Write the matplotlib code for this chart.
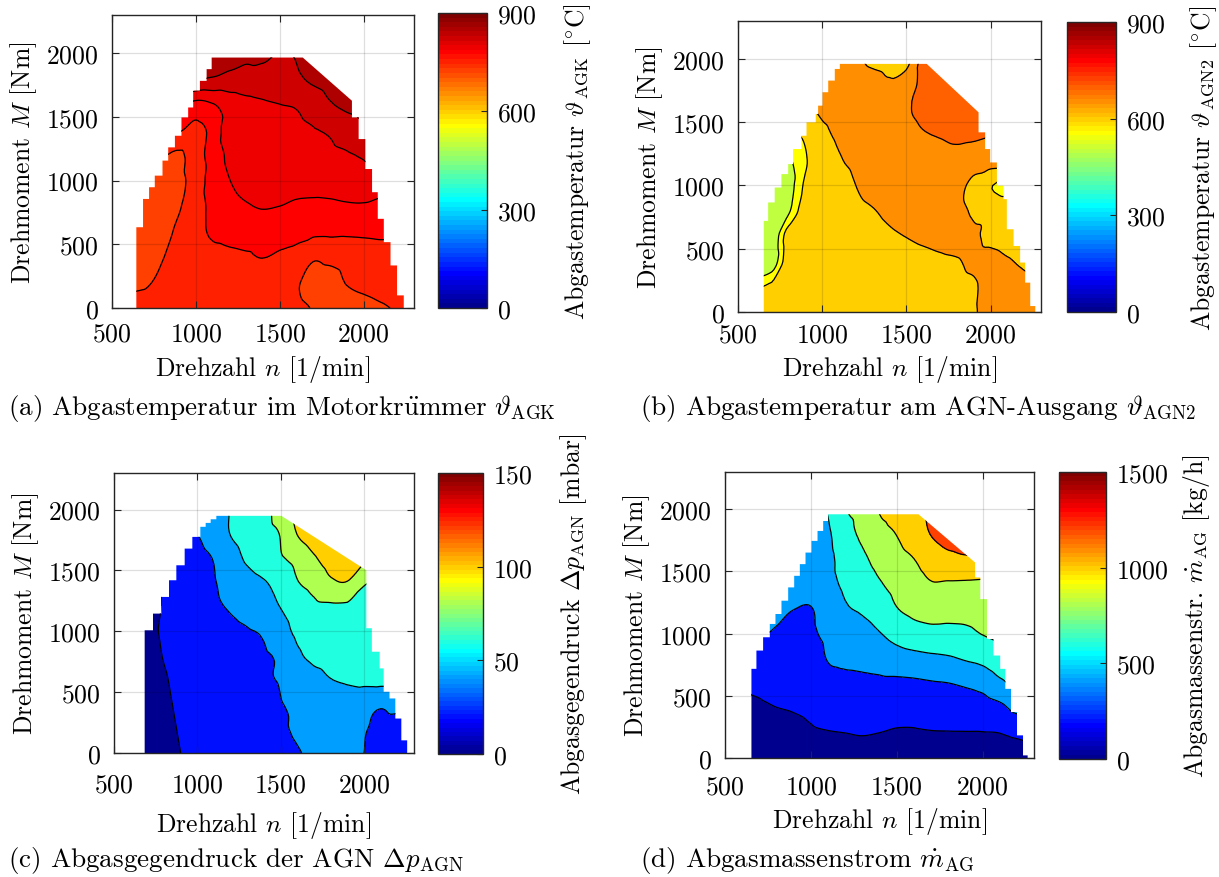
import numpy as np
import matplotlib
matplotlib.use("Agg")
import matplotlib.pyplot as plt
from matplotlib.colors import ListedColormap, Normalize
from matplotlib.tri import Triangulation, UniformTriRefiner, CubicTriInterpolator
from matplotlib.path import Path
from matplotlib.patches import PathPatch
from matplotlib.cm import ScalarMappable

plt.rcParams['font.family'] = ['cmr10', 'DejaVu Serif']
plt.rcParams['mathtext.fontset'] = 'cm'
plt.rcParams['axes.formatter.use_mathtext'] = True
plt.rcParams['font.size'] = 18.5

# ---------------------------------------------------------------- grid axes
speed = [600, 700, 800, 900, 1000, 1100, 1200, 1300, 1400,
         1500, 1600, 1700, 1800, 1900, 2000, 2100, 2200, 2300]      # 1/min
torque = [0, 200, 400, 600, 800, 1000, 1200, 1400, 1600, 1800, 2000]  # Nm

# ---------------------------------------------------------------- (a) exhaust temp. manifold [degC]
temp_agk = [
    [757, 755, 757, 762, 768, 770, 768, 765, 762, 758, 754, 749, 742, 740, 742, 747, 752, 755],
    [745, 748, 754, 760, 766, 770, 768, 764, 760, 756, 752, 743, 742, 751, 756, 760, 762, 763],
    [730, 738, 749, 757, 765, 770, 772, 773, 775.5, 772, 768, 753, 756, 760, 764, 767, 768, 768],
    [728, 732, 742, 755, 768, 778, 781, 783, 783, 782, 781, 780, 780, 779, 779, 779, 778, 778],
    [730, 733, 738, 748, 765, 781, 792, 798, 802, 800, 795, 794, 795, 797, 797, 790, 788, 788],
    [740, 738, 738, 745, 760, 787, 799.5, 808, 812, 813, 813, 812, 812, 815, 819, 823, 824, 825],
    [760, 757, 752, 746, 765, 785, 805, 812, 816, 818, 819, 820, 821, 823, 827, 830, 832, 833],
    [785, 784, 782, 778, 768, 783, 815, 818, 820, 821, 822, 824, 828, 836, 845, 848, 849, 849],
    [810, 808, 806, 806, 793, 799, 812, 820, 823, 825, 827, 834, 848, 856, 860, 862, 862, 862],
    [857, 857, 856, 855, 852, 848, 843, 840, 838, 840, 846, 855, 862, 866, 868, 869, 869, 869],
    [868, 868, 868, 867, 866, 864, 861, 857, 858, 849, 852, 862, 868, 872, 874, 875, 875, 875],
]
# ---------------------------------------------------------------- (b) exhaust temp. AGN outlet [degC]
temp_agn2 = [
    [612, 615, 620, 624, 627, 630, 632, 634, 636, 638, 640, 642, 645, 648.5, 656, 660, 662, 663],
    [590, 612, 620, 622, 626, 629, 631, 633, 635, 637, 640, 642, 645, 648, 657, 661, 657, 652],
    [470, 505, 635, 625, 625, 629, 632, 635, 638, 641, 644, 647, 649, 653, 656, 652, 646, 640],
    [460, 495, 632, 622, 628, 634, 639, 643, 647, 650.5, 654, 656, 656, 653, 645, 640, 636, 632],
    [455, 480, 540, 635, 636, 639, 645, 649, 654, 658, 661, 662, 658, 646, 640, 636, 632, 630],
    [455, 470, 520, 610, 627, 638, 650, 657, 661, 664, 666, 667, 662, 638, 603, 585, 595, 600],
    [490, 505, 540, 595, 628, 647, 657, 664, 668, 671, 673, 675, 677, 672, 674, 676, 680, 683],
    [560, 570, 585, 610, 640, 656, 665, 672, 680, 688, 697, 703, 712, 708, 702, 700, 700, 700],
    [630, 632, 636, 641, 657, 662, 670, 678, 686, 696, 708, 715, 718, 718, 716, 715, 714, 714],
    [648, 650, 652, 655, 660, 665, 668, 666, 657, 675, 712, 722, 726, 728, 728, 728, 728, 728],
    [660, 661, 662, 663, 665, 666, 657, 640, 632, 630, 715, 730, 735, 737, 738, 738, 738, 738],
]
# ---------------------------------------------------------------- (c) back pressure AGN [mbar]
dp_agn = [
    [8, 12, 16, 20, 24, 28, 31, 34, 36, 38, 39.5, 41.5, 43, 42, 40, 34, 30, 28],
    [10, 13, 17, 21, 25, 29, 32, 35, 37, 39, 41, 43, 44, 43, 41, 36, 32, 30],
    [11, 14, 18, 22, 26, 30, 33, 36, 38, 39.6, 42, 45, 48, 50, 46, 42, 46, 50],
    [12, 15, 19, 23, 27, 31, 34, 37, 39, 41, 47, 54, 59.5, 62, 64, 65, 65, 65],
    [13, 16, 20.5, 24, 28, 32, 35, 37, 38.5, 43, 57, 64, 66, 67, 68, 68, 68, 68],
    [14, 17, 21.5, 25, 29, 33, 36.5, 39, 42, 52, 64, 68, 70, 71, 72, 72, 72, 72],
    [14, 16, 21, 27, 33, 37.5, 41.5, 46, 52, 60.5, 70, 76, 77, 77, 77, 77, 77, 77],
    [15, 17, 21, 27, 33, 39, 46, 52, 58.5, 67, 79, 86, 97, 99, 82, 78, 77, 77],
    [16, 18, 22, 28, 34, 41, 52, 63, 72, 78, 86, 98, 108, 112, 105, 105, 105, 105],
    [30, 32, 34, 36, 40, 50, 60.5, 68, 75, 81, 100.5, 111, 116, 118, 118, 118, 118, 118],
    [35, 37, 40, 44, 48, 54, 61, 68, 75, 88, 108, 118, 123, 125, 125, 125, 125, 125],
]
# ---------------------------------------------------------------- (d) exhaust mass flow [kg/h]
mdot_ag = [
    [100, 110, 120, 128, 135, 140, 145, 148, 150, 152, 154, 155, 156, 157, 158, 158, 158, 158],
    [133, 145, 159, 167, 183, 193, 199.5, 207, 198.8, 187, 186.5, 192.5, 194, 194.5, 195, 200, 225, 240],
    [167, 179, 198, 207.5, 227, 266, 278, 285, 282, 262, 262, 282, 290, 299, 308.5, 351, 449, 480],
    [195, 236, 259.5, 256, 269, 342.5, 357, 363, 365.6, 361.6, 368, 384.6, 397, 424, 463, 560, 640, 660],
    [240, 327, 322, 305, 310, 409, 433, 446, 471, 515, 540, 562, 580, 615.6, 652, 727, 760, 780],
    [420, 410, 384, 354, 375, 444, 507, 534, 591, 668.5, 722, 745, 743.5, 757, 806, 841, 860, 870],
    [460, 450, 430, 402, 394, 479, 581, 623, 688, 793, 849, 876, 871, 872, 887, 900, 905, 910],
    [480, 475, 470, 450, 470, 540, 635, 691, 783, 863, 917, 986, 980, 975, 968, 960, 955, 950],
    [500, 495, 490, 485, 490, 550, 686, 764, 867, 934, 998, 1096, 1153, 1177, 1170, 1165, 1160, 1160],
    [520, 520, 520, 520, 530, 575, 737, 833, 948, 1004, 1102, 1205, 1267, 1280, 1290, 1290, 1290, 1290],
    [540, 540, 540, 545, 560, 610, 790, 860, 1010, 1060, 1150, 1240, 1300, 1320, 1330, 1330, 1330, 1330],
]

# ---------------------------------------------------------------- full-load outlines (speed, torque)
fl_a_n = [645, 685, 721, 755, 801, 835, 875, 914, 954, 984, 1024, 1064, 1094, 1637, 1930,
          1970, 2010, 2050, 2084, 2120, 2160, 2199, 2239, 2243]
fl_a_M = [634, 856, 948, 1039, 1157, 1261, 1352, 1496, 1574, 1705, 1783, 1875, 1966, 1966, 1627,
          1496, 1326, 1091, 909, 700, 517, 334, 99, 0]
fl_b_n = [653, 679, 718, 758, 798, 827, 877, 907, 962, 976, 1002, 1036, 1075, 1105, 1621, 1929,
          1968, 1998, 2038, 2077, 2097, 2137, 2176, 2206, 2236, 2266, 2275]
fl_b_M = [720, 866, 984, 1090, 1169, 1288, 1393, 1499, 1565, 1631, 1737, 1829, 1921, 1961, 1961, 1578,
          1420, 1288, 1182, 998, 892, 654, 522, 391, 232, 47, 0]
fl_c_n = [684, 734, 784, 830, 874, 924, 970, 1018, 1050, 1080, 1114, 1504, 2014,
          2047, 2094, 2118, 2153, 2188, 2224, 2259, 2262]
fl_c_M = [1008, 1145, 1282, 1419, 1542, 1679, 1775, 1858, 1890, 1920, 1948, 1948, 1501,
          1025, 832, 695, 503, 448, 283, 104, 0]
fl_d_n = [654, 683, 722, 761, 794, 829, 868, 903, 936, 969, 1004, 1039, 1072, 1101, 1627, 1957,
          1987, 2026, 2064, 2103, 2133, 2166, 2201, 2236, 2263, 2266]
fl_d_M = [717, 864, 971, 1078, 1158, 1265, 1372, 1465, 1559, 1652, 1746, 1826, 1906, 1960, 1960, 1572,
          1452, 1278, 957, 824, 717, 556, 369, 182, 21, 0]

# ---------------------------------------------------------------- contour levels / colour scales
lines_a = [750, 775, 800, 825, 850]
bands_a = [725, 750, 775, 800, 825, 850]
lines_b = [550, 600, 650, 700]
bands_b = [500, 550, 600, 650, 700]
lines_c = [20, 40, 60, 80, 100]
bands_c = [0, 20, 40, 60, 80, 100]
lines_d = [200, 400, 600, 800, 1000, 1200]
bands_d = [0, 200, 400, 600, 800, 1000, 1200]

ticks_a = [0, 300, 600, 900]
ticks_b = [0, 300, 600, 900]
ticks_c = [0, 50, 100, 150]
ticks_d = [0, 500, 1000, 1500]


def matlab_jet(m=64):
    n = m // 4
    u = np.concatenate([np.arange(1, n + 1) / n, np.ones(n - 1), np.arange(n, 0, -1) / n])
    g = int(np.ceil(n / 2)) - (1 if m % 4 == 1 else 0) + np.arange(1, len(u) + 1)
    cols = np.zeros((m, 3))
    for k, idx in enumerate((g + n, g, g - n)):
        ok = (idx >= 1) & (idx <= m)
        cols[idx[ok] - 1, k] = u[ok]
    return ListedColormap(cols)


JET = matlab_jet(64)
W, H = 1219, 878


def outline_path(n_pts, m_pts):
    verts = [(n_pts[0], 0.0), (n_pts[0], m_pts[0])]
    for i in range(1, len(n_pts)):
        n0, m0, n1, m1 = n_pts[i - 1], m_pts[i - 1], n_pts[i], m_pts[i]
        if abs(n1 - n0) > 100 or m1 == m0:
            verts.append((n1, m1))
        elif m1 > m0:
            verts += [(n1, m0), (n1, m1)]
        else:
            verts += [(n0, m1), (n1, m1)]
    verts.append((n_pts[-1], 0.0))
    verts.append(verts[0])
    codes = [Path.MOVETO] + [Path.LINETO] * (len(verts) - 2) + [Path.CLOSEPOLY]
    return Path(verts, codes)


def rect(x0, y0, x1, y1):
    return [x0 / W, 1 - y1 / H, (x1 - x0) / W, (y1 - y0) / H]


def panel(fig, ax_px, cb_px, field, fl_n, fl_M, lines, bands, vmax, cticks, cb_label,
          caption, cap_xy, xpad, xlab_off, cblab_off):
    ax = fig.add_axes(rect(*ax_px))
    cax = fig.add_axes(rect(*cb_px))
    ax_w, ax_h = ax_px[2] - ax_px[0], ax_px[3] - ax_px[1]
    cb_w = cb_px[2] - cb_px[0]
    norm = Normalize(0, vmax)

    Z = np.asarray(field, float)
    NN, MM = np.meshgrid(speed, torque)
    ny, nx = Z.shape
    tris = []
    for j in range(ny - 1):
        for i in range(nx - 1):
            p = j * nx + i
            tris.append([p, p + 1, p + nx + 1])
            tris.append([p, p + nx + 1, p + nx])
    tri = Triangulation(NN.ravel().astype(float), MM.ravel().astype(float), np.array(tris))
    interp = CubicTriInterpolator(tri, Z.ravel(), kind='geom')
    tri_f, z_f = UniformTriRefiner(tri).refine_field(Z.ravel(), triinterpolator=interp, subdiv=3)

    lo = min(z_f.min(), lines[0]) - 1
    hi = max(z_f.max(), lines[-1]) + 1
    colors = [JET(norm(v)) for v in bands]
    cf = ax.tricontourf(tri_f, z_f, levels=[lo] + lines + [hi], colors=colors, zorder=1)
    cl = ax.tricontour(tri_f, z_f, levels=lines, colors='k', linewidths=0.9, zorder=1.5)
    clip = PathPatch(outline_path(fl_n, fl_M), transform=ax.transData,
                     facecolor='none', edgecolor='none')
    ax.add_patch(clip)
    cf.set_clip_path(clip)
    cl.set_clip_path(clip)

    ax.set_xlim(500, 2300)
    ax.set_ylim(0, 2300)
    ax.set_xticks([500, 1000, 1500, 2000])
    ax.set_yticks([0, 500, 1000, 1500, 2000])
    ax.grid(True, color='k', alpha=0.13, linewidth=0.9)
    ax.set_axisbelow(False)
    ax.tick_params(direction='in', top=True, right=True, length=5, width=0.8, color='0.15')
    ax.tick_params(axis='x', pad=xpad)
    ax.tick_params(axis='y', pad=9.5)
    for s in ax.spines.values():
        s.set_linewidth(1.0)
        s.set_edgecolor('0.15')
    ax.set_xlabel(r'Drehzahl $n$ [1/min]')
    ax.set_ylabel(r'Drehmoment $M$ [Nm]')
    ax.xaxis.set_label_coords(0.5, -xlab_off / ax_h)
    ax.yaxis.set_label_coords(-73.0 / ax_w, 0.5)

    sm = ScalarMappable(norm=norm, cmap=JET)
    cb = fig.colorbar(sm, cax=cax, ticks=cticks)
    cb.outline.set_edgecolor('0.15')
    cb.outline.set_linewidth(1.0)
    cax.tick_params(direction='in', length=4, width=0.8, color='0.15', pad=7)
    cb.set_label(cb_label)
    cax.yaxis.set_label_coords(1 + cblab_off / cb_w, 0.5)

    fig.text(cap_xy[0] / W, 1 - cap_xy[1] / H, caption, ha='left', va='center', fontsize=19.5)
    return ax


fig = plt.figure(figsize=(W / 100, H / 100), dpi=100)
fig.patch.set_facecolor('white')

panel(fig, (112, 16, 414, 309), (438, 14, 487, 309), temp_agk, fl_a_n, fl_a_M,
      lines_a, bands_a, 900, ticks_a,
      r'Abgastemperatur $\vartheta_{\,\mathrm{AGK}}$ [$^{\circ}$C]',
      r'(a) Abgastemperatur im Motorkr$\ddot{\mathrm{u}}$mmer $\vartheta_{\mathrm{AGK}}$', (8, 409),
      10, 45, 75)
panel(fig, (738, 22, 1041, 313), (1067, 23, 1116, 313), temp_agn2, fl_b_n, fl_b_M,
      lines_b, bands_b, 900, ticks_b,
      r'Abgastemperatur $\vartheta_{\,\mathrm{AGN2}}$ [$^{\circ}$C]',
      r'(b) Abgastemperatur am AGN-Ausgang $\vartheta_{\mathrm{AGN2}}$', (640, 409),
      8, 41, 72)
panel(fig, (114, 474, 414, 754), (438, 474, 483, 755), dp_agn, fl_c_n, fl_c_M,
      lines_c, bands_c, 150, ticks_c,
      r'Abgasgegendruck $\Delta p_{\mathrm{AGN}}$ [mbar]',
      r'(c) Abgasgegendruck der AGN $\Delta p_{\mathrm{AGN}}$', (8, 861),
      14, 56, 75)
panel(fig, (725, 473, 1034, 759), (1059, 473, 1106, 760), mdot_ag, fl_d_n, fl_d_M,
      lines_d, bands_d, 1500, ticks_d,
      r'Abgasmassenstr. $\dot{m}_{\mathrm{AG}}$ [kg/h]',
      r'(d) Abgasmassenstrom $\dot{m}_{\mathrm{AG}}$', (640, 861),
      12, 47, 75)

fig.savefig('out.png', dpi=100)
